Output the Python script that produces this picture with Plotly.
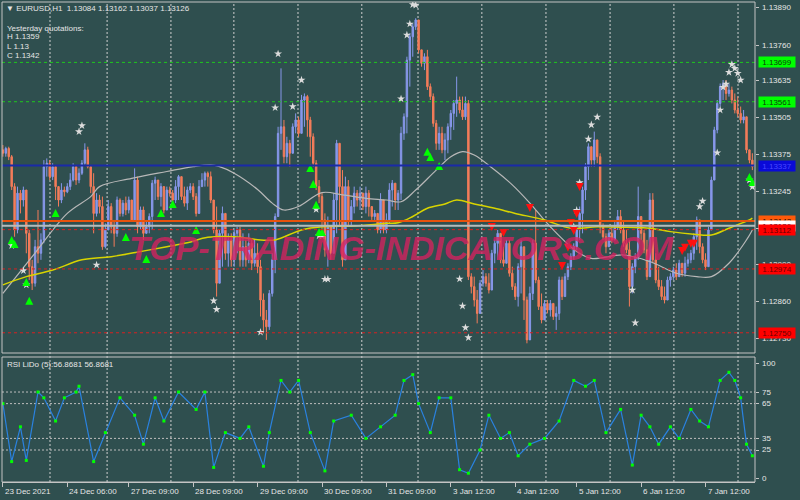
import plotly.graph_objects as go

# ---------------- DATA ----------------
first_open = 1.13392
close = [
1.13380, 1.13397, 1.13368, 1.13263, 1.13111, 1.13240, 1.13216, 1.13251, 1.13099, 1.12982,
1.12924, 1.13052, 1.13029, 1.13076, 1.13333, 1.13345, 1.13298, 1.13333, 1.13263, 1.13216,
1.13251, 1.13245, 1.13263, 1.13286, 1.13333, 1.13286, 1.13310, 1.13345, 1.13392, 1.13333,
1.13263, 1.13169, 1.13216, 1.13193, 1.13052, 1.13111, 1.13193, 1.13122, 1.13099, 1.13216,
1.13169, 1.13205, 1.13181, 1.13216, 1.13146, 1.13286, 1.13122, 1.13181, 1.13099, 1.13122,
1.13158, 1.13275, 1.13286, 1.13228, 1.13263, 1.13181, 1.13251, 1.13240, 1.13216, 1.13263,
1.13298, 1.13228, 1.13205, 1.13251, 1.13263, 1.13228, 1.13169, 1.13263, 1.13286, 1.13310,
1.13298, 1.13216, 1.13111, 1.12924, 1.13099, 1.13169, 1.13029, 1.13076, 1.13006, 1.13099,
1.13111, 1.13006, 1.13052, 1.13006, 1.13064, 1.12994, 1.13029, 1.12982, 1.12865, 1.12795,
1.12771, 1.12888, 1.13006, 1.13158, 1.13450, 1.13473, 1.13368, 1.13415, 1.13380, 1.13473,
1.13497, 1.13450, 1.13567, 1.13579, 1.13497, 1.13438, 1.13345, 1.13263, 1.13228, 1.13146,
1.13041, 1.13122, 1.13029, 1.13216, 1.13415, 1.13263, 1.13006, 1.13263, 1.13146, 1.13193,
1.13240, 1.13216, 1.13240, 1.13193, 1.13240, 1.13193, 1.13158, 1.13169, 1.13111, 1.13216,
1.13111, 1.13146, 1.13251, 1.13275, 1.13216, 1.13240, 1.13450, 1.13508, 1.13707, 1.13789,
1.13824, 1.13848, 1.13743, 1.13696, 1.13719, 1.13614, 1.13579, 1.13485, 1.13415, 1.13450,
1.13392, 1.13427, 1.13473, 1.13520, 1.13555, 1.13567, 1.13532, 1.13508, 1.13555, 1.12947,
1.12912, 1.12865, 1.12818, 1.12924, 1.12947, 1.12924, 1.12900, 1.13029, 1.13064, 1.13099,
1.13006, 1.12994, 1.13064, 1.12959, 1.12912, 1.12877, 1.12982, 1.13052, 1.12865, 1.12725,
1.12888, 1.13064, 1.12935, 1.12842, 1.12795, 1.12853, 1.12830, 1.12853, 1.12807, 1.12818,
1.12935, 1.12877, 1.12947, 1.12982, 1.13017, 1.13052, 1.13111, 1.13169, 1.13251, 1.13333,
1.13403, 1.13356, 1.13427, 1.13368, 1.13122, 1.13087, 1.13052, 1.13099, 1.13076, 1.13122,
1.13158, 1.13111, 1.13064, 1.13041, 1.12912, 1.12982, 1.13017, 1.13158, 1.13099, 1.13041,
1.12947, 1.13216, 1.13006, 1.12935, 1.12912, 1.12877, 1.12865, 1.12935, 1.12947, 1.12970,
1.12947, 1.12994, 1.12959, 1.12994, 1.13006, 1.13029, 1.13087, 1.13146, 1.13052, 1.13006,
1.12982, 1.13111, 1.13286, 1.13462, 1.13555, 1.13614, 1.13625, 1.13590, 1.13602, 1.13567,
1.13532, 1.13520, 1.13497, 1.13508, 1.13392, 1.13356, 1.13333]
high = [
1.13409, 1.13403, 1.13403, 1.13374, 1.13275, 1.13263, 1.13251, 1.13263, 1.13251, 1.13111,
1.13006, 1.13076, 1.13181, 1.13099, 1.13356, 1.13362, 1.13356, 1.13345, 1.13339, 1.13263,
1.13275, 1.13263, 1.13275, 1.13310, 1.13345, 1.13339, 1.13327, 1.13356, 1.13415, 1.13403,
1.13339, 1.13310, 1.13240, 1.13234, 1.13228, 1.13134, 1.13216, 1.13205, 1.13146, 1.13228,
1.13222, 1.13216, 1.13228, 1.13228, 1.13216, 1.13327, 1.13298, 1.13193, 1.13193, 1.13146,
1.13169, 1.13286, 1.13298, 1.13286, 1.13275, 1.13263, 1.13263, 1.13263, 1.13251, 1.13286,
1.13304, 1.13298, 1.13263, 1.13263, 1.13275, 1.13275, 1.13240, 1.13286, 1.13310, 1.13316,
1.13316, 1.13316, 1.13216, 1.13193, 1.13111, 1.13193, 1.13169, 1.13099, 1.13099, 1.13111,
1.13122, 1.13122, 1.13099, 1.13076, 1.13099, 1.13076, 1.13076, 1.13064, 1.13006, 1.12888,
1.12830, 1.12900, 1.13029, 1.13169, 1.13473, 1.13678, 1.13497, 1.13438, 1.13427, 1.13485,
1.13520, 1.13508, 1.13585, 1.13590, 1.13585, 1.13508, 1.13450, 1.13356, 1.13286, 1.13240,
1.13169, 1.13158, 1.13122, 1.13240, 1.13427, 1.13415, 1.13321, 1.13298, 1.13286, 1.13216,
1.13263, 1.13251, 1.13263, 1.13228, 1.13263, 1.13251, 1.13193, 1.13181, 1.13169, 1.13240,
1.13216, 1.13169, 1.13275, 1.13286, 1.13263, 1.13251, 1.13473, 1.13520, 1.13719, 1.13801,
1.13836, 1.13854, 1.13848, 1.13743, 1.13731, 1.13743, 1.13625, 1.13590, 1.13497, 1.13473,
1.13473, 1.13450, 1.13485, 1.13532, 1.13567, 1.13649, 1.13579, 1.13579, 1.13579, 1.13567,
1.12959, 1.12947, 1.12900, 1.12935, 1.12970, 1.12959, 1.12959, 1.13041, 1.13076, 1.13111,
1.13099, 1.13052, 1.13076, 1.13076, 1.12982, 1.12924, 1.12994, 1.13076, 1.13052, 1.12877,
1.12912, 1.13076, 1.13181, 1.12947, 1.12888, 1.12865, 1.12865, 1.12865, 1.12853, 1.12842,
1.12947, 1.12947, 1.12959, 1.12994, 1.13029, 1.13064, 1.13122, 1.13193, 1.13263, 1.13345,
1.13415, 1.13403, 1.13456, 1.13427, 1.13380, 1.13134, 1.13099, 1.13111, 1.13122, 1.13146,
1.13181, 1.13181, 1.13146, 1.13111, 1.13076, 1.12994, 1.13029, 1.13263, 1.13158, 1.13111,
1.13076, 1.13240, 1.13240, 1.13029, 1.12982, 1.12935, 1.12912, 1.12947, 1.12959, 1.12982,
1.12994, 1.13006, 1.12994, 1.13017, 1.13029, 1.13041, 1.13099, 1.13158, 1.13146, 1.13064,
1.13029, 1.13122, 1.13298, 1.13473, 1.13567, 1.13625, 1.13637, 1.13637, 1.13625, 1.13614,
1.13590, 1.13579, 1.13544, 1.13532, 1.13508, 1.13392, 1.13380]
low = [
1.13368, 1.13368, 1.13356, 1.13251, 1.13087, 1.13099, 1.13169, 1.13193, 1.13029, 1.12935,
1.12900, 1.12912, 1.12994, 1.13006, 1.13064, 1.13298, 1.13286, 1.13286, 1.13216, 1.13193,
1.13205, 1.13228, 1.13240, 1.13251, 1.13281, 1.13269, 1.13275, 1.13304, 1.13339, 1.13327,
1.13240, 1.13099, 1.13158, 1.13169, 1.13041, 1.13046, 1.13111, 1.13099, 1.13052, 1.13087,
1.13158, 1.13158, 1.13163, 1.13169, 1.13140, 1.13140, 1.13099, 1.13111, 1.13076, 1.13099,
1.13099, 1.13111, 1.13216, 1.13216, 1.13193, 1.13169, 1.13181, 1.13228, 1.13193, 1.13205,
1.13216, 1.13216, 1.13193, 1.13181, 1.13240, 1.13216, 1.13158, 1.13169, 1.13263, 1.13263,
1.13263, 1.13205, 1.13099, 1.12877, 1.12935, 1.12982, 1.13006, 1.12982, 1.12982, 1.12982,
1.13029, 1.12982, 1.12982, 1.12982, 1.12994, 1.12970, 1.12982, 1.12959, 1.12807, 1.12748,
1.12725, 1.12760, 1.12877, 1.12959, 1.13158, 1.13392, 1.13345, 1.13345, 1.13333, 1.13380,
1.13450, 1.13438, 1.13450, 1.13473, 1.13438, 1.13368, 1.13333, 1.13251, 1.13205, 1.13111,
1.13017, 1.12982, 1.13006, 1.13029, 1.13099, 1.13122, 1.12982, 1.13041, 1.13122, 1.13122,
1.13169, 1.13193, 1.13181, 1.13181, 1.13169, 1.13158, 1.13146, 1.13146, 1.13099, 1.13099,
1.13099, 1.13099, 1.13134, 1.13193, 1.13181, 1.13181, 1.13216, 1.13427, 1.13450, 1.13614,
1.13719, 1.13813, 1.13731, 1.13684, 1.13672, 1.13602, 1.13567, 1.13473, 1.13392, 1.13392,
1.13380, 1.13356, 1.13380, 1.13427, 1.13462, 1.13508, 1.13520, 1.13497, 1.13497, 1.12935,
1.12888, 1.12842, 1.12783, 1.12818, 1.12912, 1.12912, 1.12888, 1.12900, 1.12994, 1.13006,
1.12994, 1.12982, 1.13017, 1.12947, 1.12900, 1.12865, 1.12842, 1.12888, 1.12795, 1.12713,
1.12760, 1.12865, 1.12924, 1.12830, 1.12783, 1.12795, 1.12818, 1.12807, 1.12795, 1.12760,
1.12795, 1.12865, 1.12877, 1.12935, 1.12970, 1.13006, 1.13041, 1.13076, 1.13099, 1.13216,
1.13286, 1.13333, 1.13333, 1.13345, 1.13099, 1.13076, 1.13029, 1.13064, 1.13064, 1.13076,
1.13111, 1.13099, 1.13052, 1.13029, 1.12842, 1.12888, 1.12959, 1.13006, 1.13076, 1.13029,
1.12935, 1.12947, 1.12994, 1.12924, 1.12900, 1.12865, 1.12853, 1.12865, 1.12912, 1.12935,
1.12935, 1.12947, 1.12947, 1.12947, 1.12982, 1.12994, 1.13006, 1.13041, 1.13029, 1.12994,
1.12970, 1.12982, 1.13111, 1.13286, 1.13450, 1.13544, 1.13567, 1.13567, 1.13579, 1.13555,
1.13520, 1.13508, 1.13485, 1.13485, 1.13380, 1.13345, 1.13321]

gray_ma_idx = [0, 10, 22, 30, 33, 44, 56, 65, 71, 74, 79, 87, 92, 96, 101, 109, 116, 124, 131, 136,
               141, 148, 153, 157, 161, 168, 174, 180, 187, 196, 201, 212, 221, 230, 237, 242, 248, 254, 256]
gray_ma = [1.12888, 1.13017, 1.13169, 1.13228, 1.13263, 1.13292, 1.13316, 1.13333, 1.13339, 1.13333,
           1.13310, 1.13253, 1.13205, 1.13181, 1.13193, 1.13242, 1.13234, 1.13222, 1.13216, 1.13210,
           1.13251, 1.13321, 1.13368, 1.13386, 1.13374, 1.13321, 1.13269, 1.13205, 1.13122, 1.13035,
           1.13011, 1.13023, 1.13000, 1.12959, 1.12947, 1.12947, 1.12994, 1.13076, 1.13111]
yellow_ma_idx = [0, 8, 17, 27, 37, 47, 56, 63, 70, 79, 88, 93, 102, 109, 120, 131, 135, 140, 145, 151,
                 155, 161, 168, 175, 185, 194, 203, 213, 221, 228, 236, 242, 248, 255, 256]
yellow_ma = [1.12918, 1.12947, 1.12970, 1.13006, 1.13017, 1.13035, 1.13052, 1.13066, 1.13085, 1.13087,
             1.13076, 1.13076, 1.13111, 1.13122, 1.13125, 1.13134, 1.13136, 1.13158, 1.13187, 1.13202,
             1.13216, 1.13202, 1.13187, 1.13169, 1.13146, 1.13117, 1.13122, 1.13120, 1.13117, 1.13105,
             1.13096, 1.13093, 1.13117, 1.13146, 1.13152]

buy_idx = [3, 4, 8, 9, 18, 42, 49, 54, 58, 66, 105, 106, 107, 108, 109, 145, 146, 149, 255, 256]
buy_price = [1.13090, 1.13076, 1.12942, 1.12876, 1.13184, 1.13100, 1.13023, 1.13184, 1.13216, 1.13125,
             1.13342, 1.13286, 1.13213, 1.13118, 1.13118, 1.13399, 1.13381, 1.13349, 1.13311, 1.13293]
sell_idx = [167, 171, 180, 191, 193, 194, 195, 196, 197, 232, 233, 235, 236]
sell_price = [1.13107, 1.13086, 1.13174, 1.12970, 1.13034, 1.13121, 1.13093, 1.13153, 1.13248,
              1.13023, 1.13034, 1.13048, 1.13048]
star_idx = [3, 7, 8, 26, 27, 32, 72, 73, 94, 102, 99, 93, 107, 108, 109, 110, 111, 88, 136, 138,
            139, 140, 141, 156, 157, 158, 159, 200, 201, 203, 197, 196, 195, 215, 216, 238, 239, 244, 245, 246,
            247, 248, 249, 250, 251, 252, 255, 256]
star_price = [1.13056, 1.12968, 1.12918, 1.13456, 1.13477, 1.12988, 1.12862, 1.12832, 1.13729, 1.13637,
              1.13544, 1.13540, 1.13183, 1.13090, 1.13090, 1.12938, 1.12938, 1.12752, 1.13571, 1.13795,
              1.13834, 1.13902, 1.13900, 1.12939, 1.12844, 1.12768, 1.12733, 1.13430, 1.13480, 1.13507,
              1.13277, 1.13180, 1.13122, 1.12900, 1.12785, 1.13193, 1.13212, 1.13382, 1.13532, 1.13612,
              1.13623, 1.13664, 1.13692, 1.13678, 1.13661, 1.13637, 1.13286, 1.13262]

rsi_idx = [0, 3, 6, 8, 12, 14, 18, 21, 25, 26, 31, 35, 40, 45, 48, 52, 55, 60, 66, 69,
           72, 76, 81, 84, 89, 91, 95, 98, 101, 105, 110, 113, 119, 124, 129, 134, 137, 140, 142, 146,
           149, 153, 156, 159, 163, 166, 170, 173, 176, 180, 185, 190, 195, 199, 202, 206, 211, 215, 218, 221,
           224, 228, 231, 235, 238, 241, 245, 248, 250, 252, 254, 256]
rsi_val = [65, 15, 45, 16, 75, 70, 50, 70, 75, 80, 15, 40, 70, 55, 30, 70, 50, 75, 60, 75,
           10, 40, 35, 45, 11, 40, 85, 75, 85, 40, 7, 50, 55, 35, 45, 55, 85, 90, 65, 40,
           70, 70, 8, 5, 25, 55, 35, 40, 20, 30, 35, 50, 85, 80, 85, 40, 60, 12, 55, 45,
           30, 45, 35, 60, 50, 45, 85, 92, 85, 70, 30, 20]

day_breaks = [16.1, 35.6, 57.4, 78.9, 100.8, 122.6, 141.8, 163.6, 185.5, 207.4, 229.2, 251.1]
date_tick_idx = [0, 22, 43, 65, 87, 109, 131, 153, 175, 196, 218, 240]
date_tick_text = ["23 Dec 2021", "24 Dec 06:00", "27 Dec 09:00", "28 Dec 09:00", "29 Dec 09:00",
                  "30 Dec 09:00", "31 Dec 09:00", "3 Jan 12:00", "4 Jan 12:00", "5 Jan 12:00",
                  "6 Jan 12:00", "7 Jan 12:00"]
price_ticks = [1.13890, 1.13760, 1.13635, 1.13505, 1.13375, 1.13245, 1.13115, 1.12990, 1.12860, 1.12730]
rsi_ticks = [0, 25, 35, 65, 75, 100]
rsi_levels = [25, 35, 65, 75]

green_levels = [1.13699, 1.13561]
blue_level = 1.13337
orange_level = 1.13142
bid_level = 1.13126
red_levels = [1.13112, 1.12974, 1.12750]

header_text = "▼ EURUSD,H1  1.13084 1.13162 1.13037 1.13126"
yesterday_lines = ["Yesterday quotations:", "H 1.1359", "L 1.13", "C 1.1342"]
rsi_label = "RSI LiDo (5):56.8681 56.8681"
watermark = "TOP-TRADING-INDICATORS.COM"

# ---------------- STYLE ----------------
BG = "#2f4f4f"
FG = "#e6e6e6"
FRAME = "#c4c4c4"
BULL = "#8797ea"
BEAR = "#f47c5a"
FONT = "Liberation Sans"
FS = 8

H_TOTAL = 500
T, B = 2, 18
PLOT_H = H_TOTAL - T - B          # 480
def py(p):                        # pixel row -> paper fraction
    return (H_TOTAL - B - p) / PLOT_H

MAIN_DOM = [py(353), 1.0]
RSI_DOM = [0.0, py(357)]

opens = [first_open] + close[:-1]
hi = [max(h, o, c) for h, o, c in zip(high, opens, close)]
lo = [min(l, o, c) for l, o, c in zip(low, opens, close)]
idx = list(range(len(close)))

fig = go.Figure()

fig.add_trace(go.Candlestick(
    x=idx, open=opens, high=hi, low=lo, close=close,
    increasing=dict(line=dict(color=BULL, width=1), fillcolor=BULL),
    decreasing=dict(line=dict(color=BEAR, width=1), fillcolor=BEAR),
    whiskerwidth=0, xaxis="x", yaxis="y", hoverinfo="skip", showlegend=False))

fig.add_trace(go.Scatter(x=gray_ma_idx, y=gray_ma, mode="lines",
                         line=dict(color="#b8b8b8", width=1.2, shape="spline"),
                         xaxis="x", yaxis="y", hoverinfo="skip", showlegend=False))
fig.add_trace(go.Scatter(x=yellow_ma_idx, y=yellow_ma, mode="lines",
                         line=dict(color="#d8d400", width=1.5, shape="spline"),
                         xaxis="x", yaxis="y", hoverinfo="skip", showlegend=False))

fig.add_trace(go.Scatter(x=star_idx, y=star_price, mode="markers",
                         marker=dict(symbol="star", size=6, color="#dcdcdc",
                                     line=dict(width=0)),
                         xaxis="x", yaxis="y", hoverinfo="skip", showlegend=False))
fig.add_trace(go.Scatter(x=buy_idx, y=buy_price, mode="markers",
                         marker=dict(symbol="arrow-up", size=8, color="#00ff00",
                                     line=dict(width=0)),
                         xaxis="x", yaxis="y", hoverinfo="skip", showlegend=False))
fig.add_trace(go.Scatter(x=sell_idx, y=sell_price, mode="markers",
                         marker=dict(symbol="arrow-down", size=8, color="#ff1010",
                                     line=dict(width=0)),
                         xaxis="x", yaxis="y", hoverinfo="skip", showlegend=False))

fig.add_trace(go.Scatter(x=rsi_idx, y=rsi_val, mode="lines+markers",
                         line=dict(color="#2a82e0", width=1.2),
                         marker=dict(symbol="square", size=3, color="#00ff00"),
                         xaxis="x", yaxis="y2", hoverinfo="skip", showlegend=False))

shapes = []
for d in day_breaks:
    shapes.append(dict(type="line", xref="x", yref="paper", x0=d, x1=d, y0=0, y1=1,
                       line=dict(color="#cfcfcf", width=1, dash="2px,2px"), layer="below"))
for lv in rsi_levels:
    shapes.append(dict(type="line", xref="paper", yref="y2", x0=0, x1=1, y0=lv, y1=lv,
                       line=dict(color="#bdbdbd", width=1, dash="2px,2px"), layer="below"))
for g in green_levels:
    shapes.append(dict(type="line", xref="paper", yref="y", x0=0, x1=1, y0=g, y1=g,
                       line=dict(color="#1ec81e", width=1, dash="3px,3px")))
shapes.append(dict(type="line", xref="paper", yref="y", x0=0, x1=1, y0=blue_level, y1=blue_level,
                   line=dict(color="#1a2aa8", width=2)))
shapes.append(dict(type="line", xref="paper", yref="y", x0=0, x1=1, y0=orange_level, y1=orange_level,
                   line=dict(color="#e8520c", width=2)))
shapes.append(dict(type="line", xref="paper", yref="y", x0=0, x1=1, y0=bid_level, y1=bid_level,
                   line=dict(color="#b4bcbc", width=2)))
for r in red_levels:
    shapes.append(dict(type="line", xref="paper", yref="y", x0=0, x1=1, y0=r, y1=r,
                       line=dict(color="#d82020", width=1, dash="3px,3px")))
shapes.append(dict(type="rect", xref="paper", yref="paper", x0=0, x1=1, y0=MAIN_DOM[0], y1=1,
                   line=dict(color=FRAME, width=1), fillcolor="rgba(0,0,0,0)"))
shapes.append(dict(type="rect", xref="paper", yref="paper", x0=0, x1=1, y0=0, y1=RSI_DOM[1],
                   line=dict(color=FRAME, width=1), fillcolor="rgba(0,0,0,0)"))

ann = []
ann.append(dict(text=header_text, xref="paper", yref="paper", x=0.003, y=py(9), xanchor="left",
                yanchor="middle", showarrow=False, font=dict(size=FS, color=FG)))
for k, line in enumerate(yesterday_lines):
    ann.append(dict(text=line, xref="paper", yref="paper", x=0.004, y=py(28 + 9 * k),
                    xanchor="left", yanchor="middle", showarrow=False,
                    font=dict(size=FS, color=FG)))
ann.append(dict(text=rsi_label, xref="paper", yref="paper", x=0.004, y=py(364), xanchor="left",
                yanchor="middle", showarrow=False, font=dict(size=FS, color=FG)))
for ti, tt in zip(date_tick_idx, date_tick_text):
    ann.append(dict(text=tt, xref="x", yref="paper", x=ti, y=py(491), xanchor="left",
                    yanchor="middle", showarrow=False, font=dict(size=FS, color=FG)))
# right axis labels (price + RSI)
for v in price_ticks:
    ann.append(dict(text=f"{v:.5f}", xref="paper", yref="y", x=1.0, y=v, xanchor="left",
                    yanchor="middle", xshift=5, showarrow=False, font=dict(size=FS, color=FG)))
for v in rsi_ticks:
    ann.append(dict(text=str(v), xref="paper", yref="y2", x=1.0, y=v, xanchor="left",
                    yanchor="middle", xshift=5, showarrow=False, font=dict(size=FS, color=FG)))
ann.append(dict(text="<b><i>" + watermark + "</i></b>", xref="paper", yref="paper",
                x=0.531, y=py(248), xanchor="center", yanchor="middle", showarrow=False,
                font=dict(family="Liberation Sans", size=34, color="rgba(214,34,96,0.78)")))

box_specs = [(green_levels[0], "#00ff00", "#0c3c0c"), (green_levels[1], "#00ff00", "#0c3c0c"),
             (blue_level, "#0a0ad8", "#4848ff"), (orange_level, "#ff5a0a", "#2a0a00"),
             (bid_level, "#ffffff", "#000000"), (red_levels[0], "#ff0000", "#6a0000"),
             (red_levels[1], "#ff0000", "#6a0000"), (red_levels[2], "#ff0000", "#6a0000")]
for val, bg, fc in box_specs:
    ann.append(dict(text=f"{val:.5f}", xref="paper", yref="y", x=1.0, y=val, xanchor="left",
                    yanchor="middle", xshift=3, showarrow=False, bgcolor=bg, width=36, height=10,
                    borderpad=0, font=dict(size=FS, color=fc)))

fig.update_layout(
    width=800, height=500,
    margin=dict(l=2, r=45, t=T, b=B, autoexpand=False),
    paper_bgcolor=BG, plot_bgcolor=BG,
    font=dict(family=FONT, size=FS, color=FG),
    showlegend=False,
    xaxis=dict(domain=[0, 1], range=[-0.3, 256.9], anchor="y2", showgrid=False, zeroline=False,
               ticks="outside", ticklen=4, tickcolor=FRAME, tickvals=date_tick_idx,
               showticklabels=False, showline=True, linecolor=FRAME, automargin=False,
               rangeslider=dict(visible=False), fixedrange=True),
    yaxis=dict(domain=MAIN_DOM, range=[1.12679, 1.13911], side="right", showgrid=False,
               zeroline=False, ticks="outside", ticklen=3, tickcolor=FRAME,
               tickvals=price_ticks, showticklabels=False, showline=False, anchor="x",
               automargin=False),
    yaxis2=dict(domain=RSI_DOM, range=[-2.6, 105.2], side="right", showgrid=False,
                zeroline=False, ticks="outside", ticklen=3, tickcolor=FRAME,
                tickvals=rsi_ticks, showticklabels=False, showline=False, anchor="x",
                automargin=False),
    shapes=shapes, annotations=ann,
)

fig.write_html("out.html", config={"displayModeBar": False},
               post_script="document.body.style.margin='0px';document.body.style.padding='0px';")
